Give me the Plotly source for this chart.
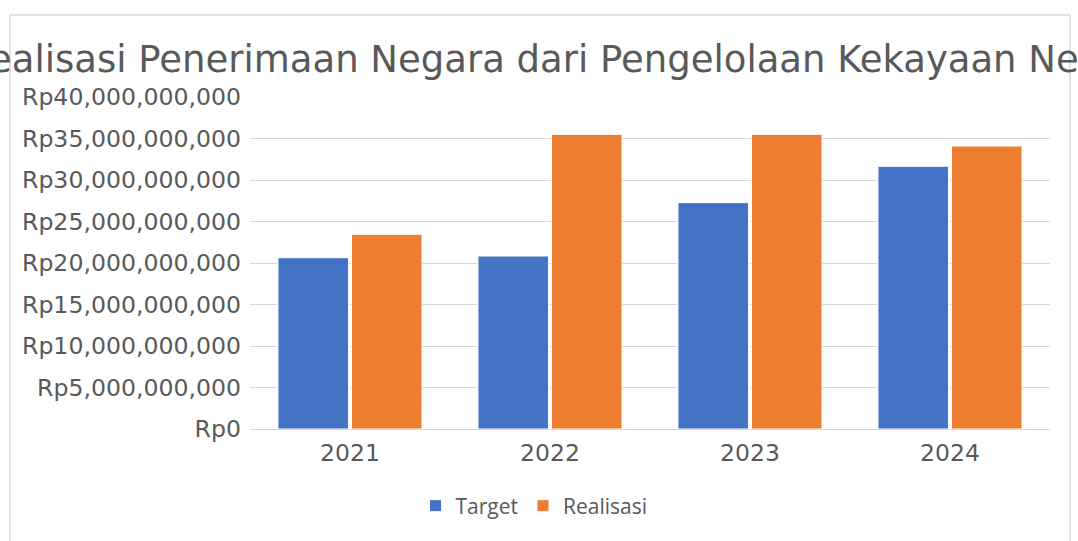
import plotly.graph_objects as go

years = ["2021", "2022", "2023", "2024"]
target = [20.64e9, 20.84e9, 27.27e9, 31.65e9]
realisasi = [23.46e9, 35.5e9, 35.5e9, 34.1e9]
tick_vals = [0, 5e9, 10e9, 15e9, 20e9, 25e9, 30e9, 35e9, 40e9]
tick_text = ["Rp" + format(int(v), ",") for v in tick_vals]
title_text = "Realisasi Penerimaan Negara dari Pengelolaan Kekayaan Negara"

W, H = 1078, 541
L, R, T, B = 250, 28, 97, 112
pw, ph = W - L - R, H - T - B

def px(x):
    return (x - L) / pw

def py(y):
    return (H - B - y) / ph

fig = go.Figure()
fig.add_trace(go.Bar(name="Target", x=years, y=target, marker=dict(color="#4472C4", line=dict(color="white", width=1))))
fig.add_trace(go.Bar(name="Realisasi", x=years, y=realisasi, marker=dict(color="#ED7D31", line=dict(color="white", width=1))))

txt = "#595959"
fig.update_layout(
    width=W, height=H,
    margin=dict(l=L, r=R, t=T, b=B, pad=0),
    paper_bgcolor="white", plot_bgcolor="white",
    barmode="group", bargap=0.265, bargroupgap=0.04,
    font=dict(family="DejaVu Sans", color=txt),
    showlegend=True,
    legend=dict(orientation="h", x=px(534), y=py(506), xanchor="center", yanchor="middle",
                font=dict(family="Open Sans", size=21, color=txt), itemwidth=30, traceorder="normal"),
    xaxis=dict(type="category", showgrid=False, showline=True, linecolor="#D9D9D9", linewidth=1,
               ticks="", tickfont=dict(size=23.5, color=txt), ticklabelstandoff=3),
    yaxis=dict(range=[0, 40e9], tickvals=tick_vals, ticktext=tick_text,
               showgrid=True, gridcolor="#D9D9D9", gridwidth=1, zeroline=False, showline=False,
               ticks="", tickfont=dict(size=23.6, color=txt), ticklabelstandoff=8),
    shapes=[dict(type="rect", xref="paper", yref="paper", x0=px(10), x1=px(1070), y0=py(560), y1=py(15),
                 line=dict(color="#D9D9D9", width=1.5), fillcolor="rgba(0,0,0,0)", layer="below")],
    annotations=[dict(text=title_text, xref="paper", yref="paper", x=px(-37), y=py(60),
                      xanchor="left", yanchor="middle", showarrow=False,
                      font=dict(family="DejaVu Sans", size=37, color=txt))],
)

fig.write_html("out.html", config={"displayModeBar": False},
               post_script="document.body.style.margin='0';")
